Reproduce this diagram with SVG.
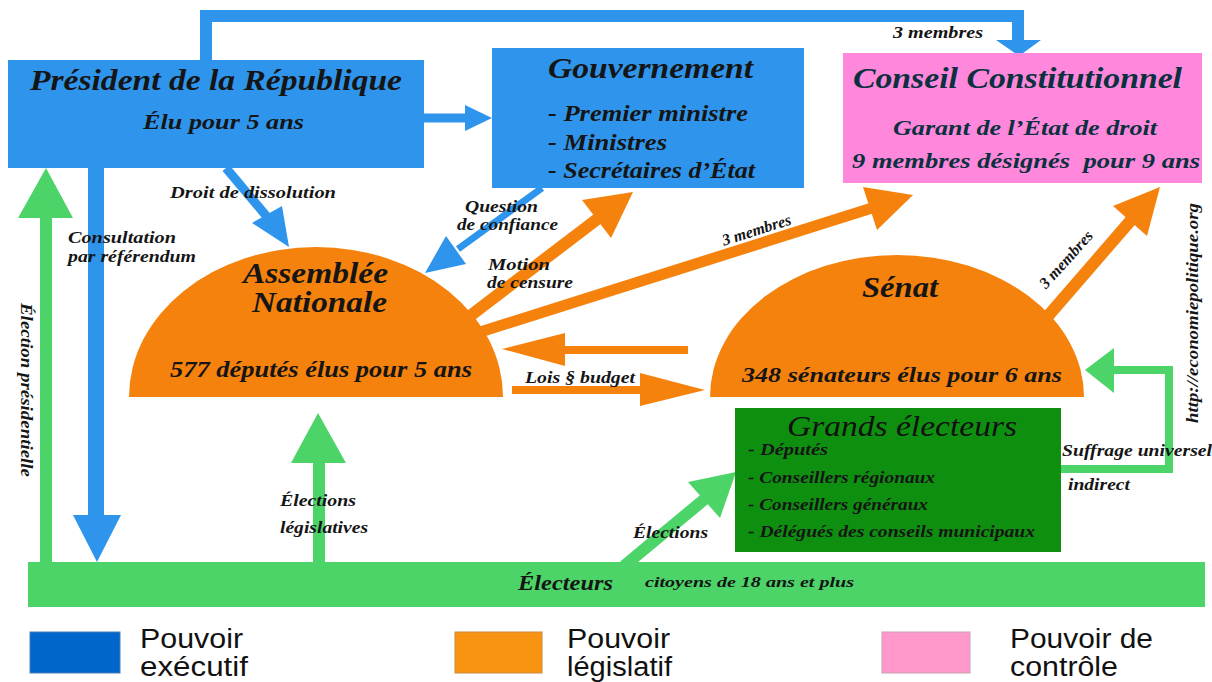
<svg xmlns="http://www.w3.org/2000/svg" width="1212" height="682" viewBox="0 0 1212 682">
<style>
.t{font-family:"Liberation Serif",serif;font-weight:bold;font-style:italic;fill:#151515}
.c{fill:#0b3040}
.lg{font-family:"Liberation Sans",sans-serif;font-size:27px;fill:#111}
.blue{fill:#2f95ec}
.bls{stroke:#2f95ec;fill:none}
.org{fill:#f5820d}
.ors{stroke:#f5820d;fill:none}
.grn{fill:#4cd468}
.grs{stroke:#4cd468;fill:none}
</style>
<rect width="1212" height="682" fill="#ffffff"/>

<g id="connectors">
  <!-- President to Conseil (top) -->
  <polyline class="bls" stroke-width="12" points="206,60 206,16 1018,16 1018,41"/>
  <polygon class="blue" points="996,40 1041,40 1019,56"/>
  <!-- President to Gouvernement -->
  <line class="bls" stroke-width="9" x1="424" y1="118" x2="467" y2="118"/>
  <polygon class="blue" points="465,105 465,131 492,118"/>
  <!-- Droit de dissolution -->
  <line class="bls" stroke-width="9" x1="226" y1="168" x2="268" y2="218"/>
  <polygon class="blue" points="252,223 282,206 289,247"/>
  <!-- Question de confiance -->
  <line class="bls" stroke-width="7" x1="542" y1="188" x2="458" y2="249"/>
  <polygon class="blue" points="466,264 446,236 425,273"/>
  <!-- Consultation par referendum -->
  <line class="bls" stroke-width="16" x1="96" y1="168" x2="96" y2="516"/>
  <polygon class="blue" points="73,515 121,515 97,562"/>
  <!-- Election presidentielle -->
  <line class="grs" stroke-width="12" x1="46" y1="563" x2="46" y2="216"/>
  <polygon class="grn" points="18,218 73,218 46,168"/>
  <!-- Elections legislatives -->
  <line class="grs" stroke-width="12" x1="319" y1="563" x2="319" y2="462"/>
  <polygon class="grn" points="291,463 346,463 318,413"/>
  <!-- Elections grands electeurs -->
  <line class="grs" stroke-width="12" x1="624" y1="566" x2="706" y2="498"/>
  <polygon class="grn" points="688,482 720,518 736,472"/>
  <!-- Suffrage universel indirect -->
  <polyline class="grs" stroke-width="8" points="1061,469 1169,469 1169,370 1112,370"/>
  <polygon class="grn" points="1114,348 1114,393 1085,370"/>
  <!-- Motion de censure -->
  <line class="ors" stroke-width="12" x1="470" y1="316" x2="600" y2="217"/>
  <polygon class="org" points="611,238 582,200 633,192"/>
  <!-- AN to Conseil -->
  <line class="ors" stroke-width="11" x1="474" y1="334" x2="872" y2="208"/>
  <polygon class="org" points="877,230 863,187 913,195"/>
  <!-- Senat to Conseil -->
  <line class="ors" stroke-width="12" x1="1048" y1="316" x2="1132" y2="219"/>
  <polygon class="org" points="1147,236 1113,206 1160,187"/>
  <!-- Senat to AN -->
  <line class="ors" stroke-width="8" x1="688" y1="350" x2="560" y2="350"/>
  <polygon class="org" points="565,333 565,366 502,349"/>
  <!-- Lois budget AN to Senat -->
  <line class="ors" stroke-width="8" x1="512" y1="390" x2="645" y2="390"/>
  <polygon class="org" points="640,373 640,406 705,390"/>

  <text class="t" x="893" y="38" font-size="16" textLength="90" lengthAdjust="spacingAndGlyphs">3 membres</text>
  <text class="t" x="170" y="198" font-size="16" textLength="166" lengthAdjust="spacingAndGlyphs">Droit de dissolution</text>
  <text class="t" x="68" y="243" font-size="16" textLength="108" lengthAdjust="spacingAndGlyphs">Consultation</text>
  <text class="t" x="68" y="262" font-size="16" textLength="128" lengthAdjust="spacingAndGlyphs">par référendum</text>
  <text class="t" x="465" y="212" font-size="16" textLength="73" lengthAdjust="spacingAndGlyphs">Question</text>
  <text class="t" x="457" y="230" font-size="16" textLength="101" lengthAdjust="spacingAndGlyphs">de confiance</text>
  <text class="t" x="488" y="270" font-size="16" textLength="62" lengthAdjust="spacingAndGlyphs">Motion</text>
  <text class="t" x="487" y="288" font-size="16" textLength="86" lengthAdjust="spacingAndGlyphs">de censure</text>
  <text class="t" font-size="16" text-anchor="middle" transform="translate(758,235) rotate(-17.5)">3 membres</text>
  <text class="t" font-size="16" text-anchor="middle" transform="translate(1070,263) rotate(-48)">3 membres</text>
  <text class="t" x="525" y="383" font-size="16" textLength="110" lengthAdjust="spacingAndGlyphs">Lois § budget</text>
  <text class="t" x="1062" y="456" font-size="16" textLength="150" lengthAdjust="spacingAndGlyphs">Suffrage universel</text>
  <text class="t" x="1068" y="490" font-size="16" textLength="62" lengthAdjust="spacingAndGlyphs">indirect</text>
  <text class="t" font-size="16" transform="translate(21,303) rotate(90)" textLength="174" lengthAdjust="spacingAndGlyphs">Élection présidentielle</text>
  <text class="t" x="280" y="506" font-size="16" textLength="76" lengthAdjust="spacingAndGlyphs">Élections</text>
  <text class="t" x="280" y="533" font-size="16" textLength="88" lengthAdjust="spacingAndGlyphs">législatives</text>
  <text class="t" x="633" y="538" font-size="16" textLength="75" lengthAdjust="spacingAndGlyphs">Élections</text>
</g>

<g id="president">
  <rect class="blue" x="8" y="60" width="416" height="108"/>
  <text class="t" x="30" y="90" font-size="29" textLength="372" lengthAdjust="spacingAndGlyphs">Président de la République</text>
  <text class="t" x="143" y="129" font-size="22" textLength="161" lengthAdjust="spacingAndGlyphs">Élu pour 5 ans</text>
</g>

<g id="gouvernement">
  <rect class="blue" x="492" y="48" width="312" height="140"/>
  <text class="t" x="548" y="78" font-size="29" textLength="205" lengthAdjust="spacingAndGlyphs">Gouvernement</text>
  <text class="t" x="548" y="121" font-size="23" textLength="200" lengthAdjust="spacingAndGlyphs">- Premier ministre</text>
  <text class="t" x="548" y="150" font-size="23" textLength="119" lengthAdjust="spacingAndGlyphs">- Ministres</text>
  <text class="t" x="548" y="178" font-size="23" textLength="207" lengthAdjust="spacingAndGlyphs">- Secrétaires d’État</text>
</g>

<g id="conseil">
  <rect x="843" y="53" width="359" height="130" fill="#ff88dc"/>
  <text class="t c" x="853" y="88" font-size="29" textLength="329" lengthAdjust="spacingAndGlyphs">Conseil Constitutionnel</text>
  <text class="t c" x="893" y="135" font-size="22" textLength="264" lengthAdjust="spacingAndGlyphs">Garant de l’État de droit</text>
  <text class="t c" x="852" y="168" font-size="22" textLength="348" lengthAdjust="spacingAndGlyphs" xml:space="preserve">9 membres désignés  pour 9 ans</text>
</g>

<g id="assemblee">
  <path class="org" d="M129,397 A187,150 0 0 1 503,397 Z"/>
  <text class="t" x="243" y="283" font-size="29" textLength="145" lengthAdjust="spacingAndGlyphs">Assemblée</text>
  <text class="t" x="252" y="312" font-size="29" textLength="135" lengthAdjust="spacingAndGlyphs">Nationale</text>
  <text class="t" x="170" y="377" font-size="23" textLength="302" lengthAdjust="spacingAndGlyphs">577 députés élus pour 5 ans</text>
</g>

<g id="senat">
  <path class="org" d="M710,397 A187,142 0 0 1 1084,397 Z"/>
  <text class="t" x="862" y="297" font-size="29" textLength="76" lengthAdjust="spacingAndGlyphs">Sénat</text>
  <text class="t" x="742" y="382" font-size="22" textLength="320" lengthAdjust="spacingAndGlyphs">348 sénateurs élus pour 6 ans</text>
</g>

<g id="grands-electeurs">
  <rect x="735" y="408" width="326" height="144" fill="#0e8f10"/>
  <text x="787" y="436" font-family="Liberation Serif, serif" font-style="italic" font-size="30" fill="#111" textLength="230" lengthAdjust="spacingAndGlyphs">Grands électeurs</text>
  <text class="t" x="748" y="455" font-size="16" textLength="80" lengthAdjust="spacingAndGlyphs">- Députés</text>
  <text class="t" x="748" y="483" font-size="16" textLength="187" lengthAdjust="spacingAndGlyphs">- Conseillers régionaux</text>
  <text class="t" x="748" y="510" font-size="16" textLength="180" lengthAdjust="spacingAndGlyphs">- Conseillers généraux</text>
  <text class="t" x="748" y="537" font-size="16" textLength="287" lengthAdjust="spacingAndGlyphs">- Délégués des conseils municipaux</text>
</g>

<g id="electeurs">
  <rect class="grn" x="28" y="562" width="1177" height="45"/>
  <text class="t" x="518" y="590" font-size="22" textLength="95" lengthAdjust="spacingAndGlyphs">Électeurs</text>
  <text class="t" x="645" y="587" font-size="15" textLength="209" lengthAdjust="spacingAndGlyphs">citoyens de 18 ans et plus</text>
</g>

<g id="url">
  <text class="t" font-size="16" transform="translate(1198,423) rotate(-90)" textLength="220" lengthAdjust="spacingAndGlyphs">http://economiepolitique.org</text>
</g>

<g id="legend">
  <rect x="30" y="632" width="90" height="41" fill="#0066cc" stroke="#4a7fb8" stroke-width="1"/>
  <text class="lg" x="140" y="648" textLength="103" lengthAdjust="spacingAndGlyphs">Pouvoir</text>
  <text class="lg" x="140" y="676" textLength="108" lengthAdjust="spacingAndGlyphs">exécutif</text>
  <rect x="455" y="632" width="87" height="41" fill="#f99412" stroke="#c98a40" stroke-width="1"/>
  <text class="lg" x="567" y="648" textLength="103" lengthAdjust="spacingAndGlyphs">Pouvoir</text>
  <text class="lg" x="567" y="676" textLength="105" lengthAdjust="spacingAndGlyphs">législatif</text>
  <rect x="882" y="632" width="88" height="41" fill="#ff99cc" stroke="#c8a0b0" stroke-width="1"/>
  <text class="lg" x="1010" y="648" textLength="143" lengthAdjust="spacingAndGlyphs">Pouvoir de</text>
  <text class="lg" x="1010" y="676" textLength="108" lengthAdjust="spacingAndGlyphs">contrôle</text>
</g>
</svg>
